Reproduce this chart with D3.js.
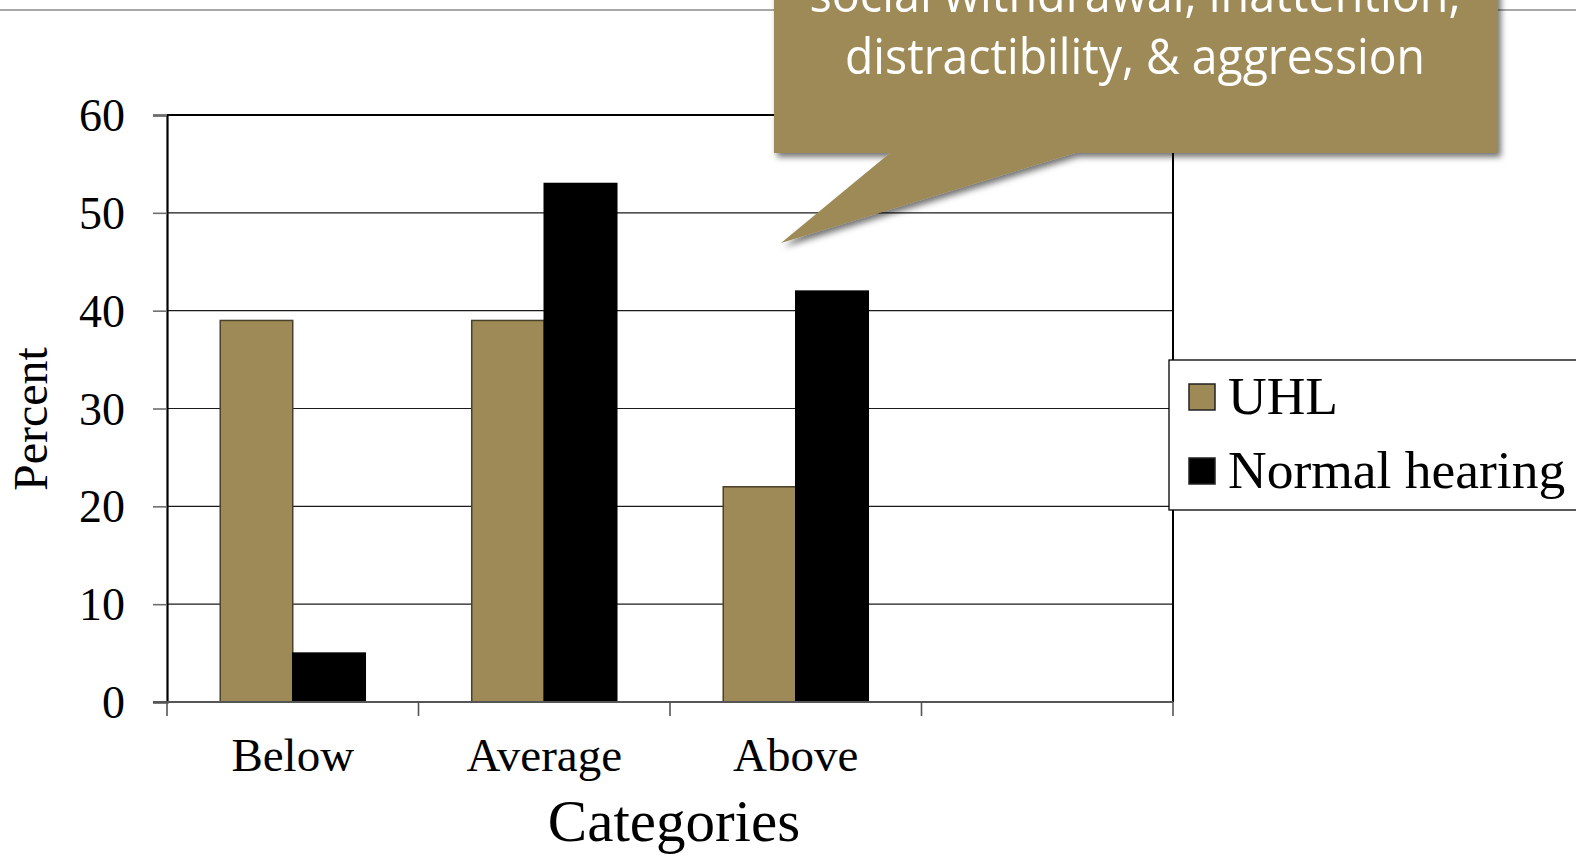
<!DOCTYPE html>
<html>
<head>
<meta charset="utf-8">
<script src="https://cdn.jsdelivr.net/npm/d3@7/dist/d3.min.js"></script>
<style>
  html, body { margin: 0; padding: 0; background: #fff; }
  svg { display: block; }
</style>
</head>
<body>
<svg id="chart" width="1576" height="857"></svg>
<script>
// Categories along the x axis (the fourth slot is an empty category)
const categories = ["Below", "Average", "Above", ""];
// Series names and their values (percent) per category
const seriesNames = ["UHL", "Normal hearing"];
const uhlValues = [39, 39, 22, null];
const normalValues = [5, 53, 42, null];
// Y axis ticks
const yTicks = [0, 10, 20, 30, 40, 50, 60];
// Callout text lines
const calloutLines = ["social withdrawal, inattention,", "distractibility, & aggression"];

const olive = "#9d8a57";
const seriesColors = [olive, "#000000"];
const seriesStroke = ["#4a4128", "#000000"];

const svg = d3.select("#chart");
const W = 1576, H = 857;
const plot = { left: 167, right: 1173, top: 115, bottom: 702 };

const defs = svg.append("defs");
const shadow = defs.append("filter").attr("id", "calloutShadow")
  .attr("x", "-10%").attr("y", "-10%").attr("width", "130%").attr("height", "140%");
shadow.append("feDropShadow").attr("dx", 3).attr("dy", 4)
  .attr("stdDeviation", 3).attr("flood-color", "#000").attr("flood-opacity", 0.55);

// Thin rule across the top of the page
svg.append("line").attr("x1", 0).attr("x2", W).attr("y1", 10).attr("y2", 10)
  .attr("stroke", "#a8a8a8").attr("stroke-width", 2);

const x0 = d3.scaleBand().domain(categories).range([plot.left, plot.right]).padding(0);
const x1 = d3.scaleBand().domain(seriesNames).range([0, x0.bandwidth()])
  .paddingInner(0).paddingOuter(0.734);
const y = d3.scaleLinear().domain([0, 60]).range([plot.bottom, plot.top]);

// Horizontal gridlines
svg.append("g").selectAll("line").data(yTicks.filter(t => t > 0)).join("line")
  .attr("x1", plot.left).attr("x2", plot.right)
  .attr("y1", d => y(d)).attr("y2", d => y(d))
  .attr("stroke", "#1a1a1a").attr("stroke-width", 1.2);

// Bars
const rows = categories.map((c, i) => ({ cat: c, vals: [uhlValues[i], normalValues[i]] }));
const groups = svg.append("g").selectAll("g").data(rows).join("g")
  .attr("transform", d => `translate(${x0(d.cat)},0)`);
groups.selectAll("rect")
  .data(d => d.vals.map((v, j) => ({ v, s: seriesNames[j], j })).filter(e => e.v != null))
  .join("rect")
  .attr("x", d => x1(d.s))
  .attr("width", x1.bandwidth())
  .attr("y", d => y(d.v))
  .attr("height", d => y(0) - y(d.v))
  .attr("fill", d => seriesColors[d.j])
  .attr("stroke", d => seriesStroke[d.j])
  .attr("stroke-width", 1.5);

// Plot frame: top and right edges
svg.append("path")
  .attr("d", `M${plot.left},${plot.top}H${plot.right}V${plot.bottom}`)
  .attr("fill", "none").attr("stroke", "#000").attr("stroke-width", 2);

// Y axis
const yAxis = d3.axisLeft(y).tickValues(yTicks).tickSize(14).tickPadding(28).tickFormat(d3.format("d"));
const gy = svg.append("g").attr("transform", `translate(${plot.left},0)`).call(yAxis);
gy.select(".domain").attr("stroke", "#000").attr("stroke-width", 2.2);
gy.selectAll(".tick line").attr("stroke", "#6e6e6e").attr("stroke-width", 1.6);
gy.selectAll(".tick text")
  .attr("font-family", "'Liberation Serif', 'Times New Roman', serif")
  .attr("font-size", 46).attr("fill", "#000").attr("dy", "0.34em");

// X axis with ticks at category boundaries
const bounds = categories.map(c => x0(c)).concat([plot.right]);
const gx = svg.append("g");
gx.append("line").attr("x1", plot.left - 14).attr("x2", plot.right)
  .attr("y1", plot.bottom).attr("y2", plot.bottom)
  .attr("stroke", "#555").attr("stroke-width", 2);
gx.selectAll("line.tk").data(bounds).join("line").attr("class", "tk")
  .attr("x1", d => d).attr("x2", d => d)
  .attr("y1", plot.bottom).attr("y2", plot.bottom + 14)
  .attr("stroke", "#555").attr("stroke-width", 1.6);
gx.selectAll("text").data(categories).join("text")
  .attr("x", d => x0(d) + x0.bandwidth() / 2)
  .attr("y", 771)
  .attr("text-anchor", "middle")
  .attr("font-family", "'Liberation Serif', 'Times New Roman', serif")
  .attr("font-size", 47)
  .text(d => d);

// Axis titles
svg.append("text")
  .attr("x", 674).attr("y", 841).attr("text-anchor", "middle")
  .attr("font-family", "'Liberation Serif', 'Times New Roman', serif")
  .attr("font-size", 59).text("Categories");
svg.append("text")
  .attr("transform", "translate(47,419) rotate(-90)")
  .attr("text-anchor", "middle")
  .attr("font-family", "'Liberation Serif', 'Times New Roman', serif")
  .attr("font-size", 48).text("Percent");

// Legend
const legend = svg.append("g");
legend.append("rect").attr("x", 1169).attr("y", 360).attr("width", 420).attr("height", 150)
  .attr("fill", "#fff").attr("stroke", "#000").attr("stroke-width", 1.3);
const items = legend.selectAll("g").data(seriesNames).join("g")
  .attr("transform", (d, i) => `translate(1189,${384 + i * 74})`);
items.append("rect").attr("width", 26).attr("height", 26)
  .attr("fill", (d, i) => seriesColors[i]).attr("stroke", "#222").attr("stroke-width", 1.5);
items.append("text").attr("x", 39).attr("y", 30)
  .attr("font-family", "'Liberation Serif', 'Times New Roman', serif")
  .attr("font-size", 53.5).text(d => d);

// Speech-bubble callout
const callout = svg.append("g").attr("filter", "url(#calloutShadow)");
callout.append("path")
  .attr("d", "M774,-20H1498V153H1075L781,243L890,153H774Z")
  .attr("fill", olive);
const lineY = [12, 74];
const lineW = [651, 580];
callout.selectAll("text").data(calloutLines).join("text")
  .attr("x", 1135).attr("y", (d, i) => lineY[i])
  .attr("text-anchor", "middle")
  .attr("fill", "#fff")
  .attr("font-family", "'Open Sans', 'Noto Sans', sans-serif")
  .attr("font-size", 50)
  .attr("textLength", (d, i) => lineW[i])
  .attr("lengthAdjust", "spacingAndGlyphs")
  .text(d => d);
</script>
</body>
</html>
